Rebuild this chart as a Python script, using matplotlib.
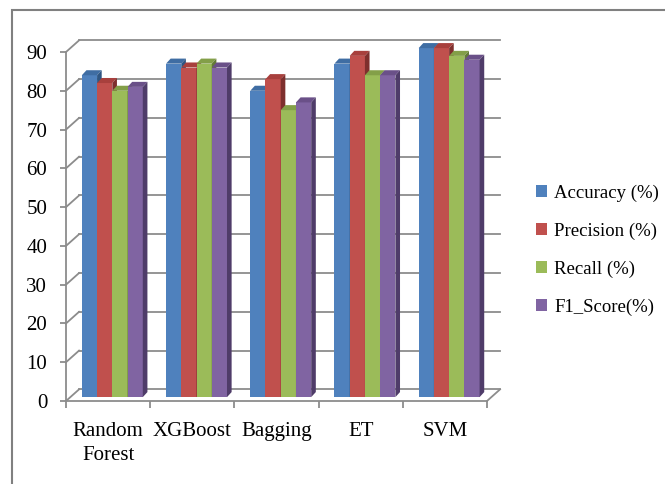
import numpy as np
import matplotlib
matplotlib.use('Agg')
import matplotlib.pyplot as plt
from matplotlib.patches import Polygon, Rectangle, Patch

# Data
models = ['Random\nForest', 'XGBoost', 'Bagging', 'ET', 'SVM']
accuracy = [83, 86, 79, 86, 90]
precision = [81, 85, 82, 88, 90]
recall = [79, 86, 74, 83, 88]
f1_score = [80, 85, 76, 83, 87]
series_names = ['Accuracy (%)', 'Precision (%)', 'Recall (%)', 'F1_Score(%)']
yticks = list(range(0, 100, 10))

# Excel-ish colours: front, top, side
front_cols = ['#4F81BD', '#C0504D', '#9BBB59', '#8064A2']
top_cols = ['#3F6DA3', '#A8403D', '#839F48', '#6A5088']
side_cols = ['#2F5683', '#7E2F2D', '#637A35', '#4F3C69']
grid_col = '#8C8C8C'

plt.rcParams['font.family'] = ['Liberation Serif', 'DejaVu Serif']
plt.rcParams['font.size'] = 15

fig = plt.figure(figsize=(6.65, 4.84), dpi=100)
W, H = 665, 484
# front plane of the 3D box
ax = fig.add_axes([66 / W, 1 - 401 / H, 421 / W, 349 / H])
ax.set_xlim(0, 5)
ax.set_ylim(0, 90)

# depth offsets in data units
back_dx, back_dy = 0.155, 3.0      # back wall
bar_dx, bar_dy = 0.05, 1.0         # bar plane
dep_dx, dep_dy = 0.055, 1.3        # bar thickness

# back wall gridlines + connectors on the left side wall
for g in yticks:
    ax.plot([back_dx, 5 + back_dx], [g + back_dy, g + back_dy], color=grid_col, lw=1.3,
            clip_on=False, zorder=1)
    ax.plot([0, back_dx], [g, g + back_dy], color=grid_col, lw=1.3, clip_on=False, zorder=1)
ax.plot([5, 5 + back_dx], [0, back_dy], color=grid_col, lw=1.3, clip_on=False, zorder=1)

# 3D bars
data = [accuracy, precision, recall, f1_score]
bw = 0.181
z = 3
for i in range(len(models)):
    for j, vals in enumerate(data):
        v = vals[i]
        x0 = i + 0.5 + (j - 2) * bw + bar_dx
        x1 = x0 + bw
        y0 = bar_dy
        y1 = v + bar_dy
        ax.add_patch(Rectangle((x0, y0), bw, v, facecolor=front_cols[j], edgecolor='none',
                               clip_on=False, zorder=z))
        ax.add_patch(Polygon([(x0, y1), (x1, y1), (x1 + dep_dx, y1 + dep_dy),
                              (x0 + dep_dx, y1 + dep_dy)], closed=True,
                             facecolor=top_cols[j], edgecolor='none', clip_on=False, zorder=z))
        ax.add_patch(Polygon([(x1, y0), (x1 + dep_dx, y0 + dep_dy), (x1 + dep_dx, y1 + dep_dy),
                              (x1, y1)], closed=True,
                             facecolor=side_cols[j], edgecolor='none', clip_on=False, zorder=z))
        z += 1

# axes styling
for s in ['top', 'right']:
    ax.spines[s].set_visible(False)
for s in ['left', 'bottom']:
    ax.spines[s].set_color(grid_col)
    ax.spines[s].set_linewidth(1.3)
    ax.spines[s].set_zorder(100)
ax.set_yticks(yticks)
ax.tick_params(axis='y', direction='out', length=4.5, width=1.3, color=grid_col, pad=9)
ax.set_xticks(range(6))
ax.set_xticklabels([''] * 6)
ax.tick_params(axis='x', which='major', direction='out', length=5, width=1.3, color=grid_col)
ax.set_xticks(np.arange(5) + 0.5, minor=True)
ax.set_xticklabels(models, minor=True, linespacing=1.4)
ax.tick_params(axis='x', which='minor', length=0, pad=15)
ax.patch.set_visible(False)

# legend
handles = [Patch(facecolor=c, edgecolor='none') for c in front_cols]
fig.legend(handles, series_names, loc='center left', bbox_to_anchor=(536 / W, 1 - 250 / H),
           frameon=False, handlelength=0.57, handleheight=0.57, handletextpad=0.4,
           labelspacing=1.1, borderpad=0, borderaxespad=0, fontsize=13.5)

# outer chart frame
fig.add_artist(Rectangle((12 / W, -0.1), 1.2, 1 - 10 / H + 0.1, transform=fig.transFigure,
                         fill=False, edgecolor='#808080', lw=1.5))

plt.savefig('out.png', dpi=100)
